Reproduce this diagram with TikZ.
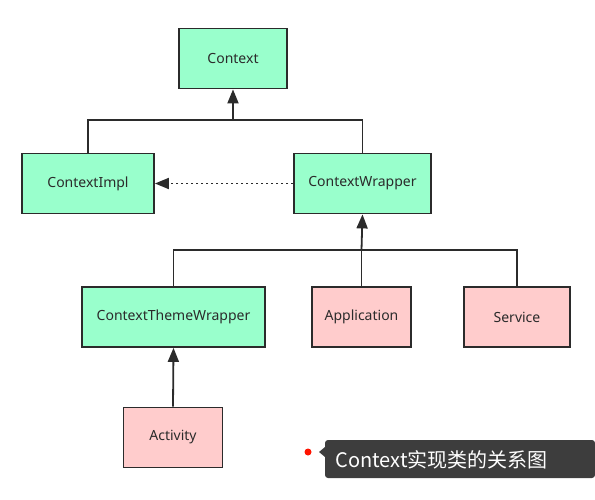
\documentclass[tikz,border=0pt]{standalone}
\usepackage{fontspec}
\setmainfont{Noto Sans}
\newfontfamily\cjkfont{Noto Sans CJK SC}
\usetikzlibrary{arrows.meta, positioning, calc}

\definecolor{mint}{HTML}{99FFCC}
\definecolor{rose}{HTML}{FFCCCC}
\definecolor{edge}{HTML}{2B2B2B}
\definecolor{capbg}{HTML}{3D3D3D}

\begin{document}
\begin{tikzpicture}[
  x=1pt, y=-1pt,
  greenbox/.style = {draw=edge, line width=1.8pt, fill=mint, minimum height=60pt, align=center, text=edge, font=\fontsize{14}{16}\selectfont},
  pinkbox/.style = {draw=edge, line width=1.8pt, fill=rose, minimum height=60pt, align=center, text=edge, font=\fontsize{14}{16}\selectfont},
  arrow/.style = {draw=edge, line width=1.8pt, -{Triangle[length=14pt, width=11pt]}},
  link/.style = {draw=edge, line width=1.8pt}
]
  \useasboundingbox (0,0) rectangle (595,500);

  % ======================================================
  % Classes
  % ======================================================
  \node[greenbox, minimum width=108pt] (context) at (233,58.5) {Context};

  \node[greenbox, minimum width=132pt] (impl) at (88,183.5) {ContextImpl};
  \node[greenbox, minimum width=137pt] (wrapper) at (362.5,183.5) {ContextWrapper};

  \node[greenbox, minimum width=183pt] (theme) at (173.5,317) {ContextThemeWrapper};
  \node[pinkbox, minimum width=99pt] (app) at (361.5,317) {Application};
  \node[pinkbox, minimum width=106pt] (service) at (517,317) {Service};

  \node[pinkbox, minimum width=99pt] (activity) at (173,437.5) {Activity};

  % impl / wrapper -> context
  \coordinate (bus1) at (233,120);
  \draw[link] (impl.north) |- (bus1) -| (wrapper.north);
  \draw[arrow] (bus1) -- (context.south);

  % wrapper -> impl (delegation)
  \draw[arrow, dash pattern=on 2pt off 3pt] (wrapper.west) -- (impl.east);

  % subclasses -> wrapper
  \coordinate (bus2) at (362.5,250);
  \draw[link] (theme.north) |- (bus2) -| (service.north);
  \draw[arrow] (app.north |- bus2) -- (wrapper.south);
  \draw[link] (app.north) -- (app.north |- bus2);

  % activity -> theme wrapper
  \draw[arrow] (activity.north) -- (theme.south);

  % caption
  \fill[capbg, rounded corners=3pt] (325,440) rectangle (595,478);
  \fill[capbg] (325,447) -- (319,452) -- (325,457) -- cycle;
  \fill[red!85!orange] (308,452) circle (3.5pt);
  \node[anchor=west, text=white, font=\cjkfont\fontsize{20}{24}\selectfont] (caption) at (332,459.5) {Context实现类的关系图};
\end{tikzpicture}
\end{document}
